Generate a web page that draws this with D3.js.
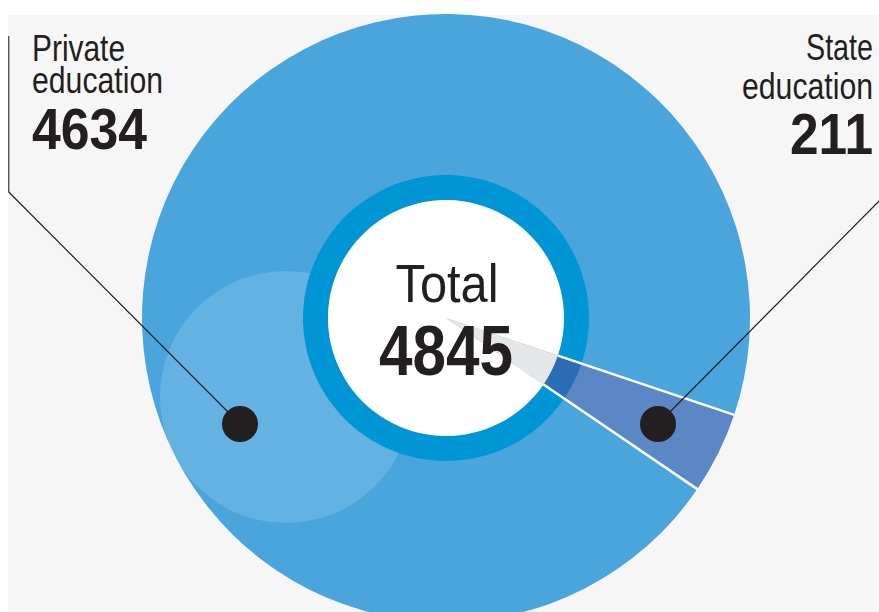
<!DOCTYPE html>
<html>
<head>
<meta charset="utf-8">
<script src="https://cdn.jsdelivr.net/npm/d3@7"></script>
<style>
  body { margin: 0; background: #fff; }
  text { font-family: "Liberation Sans", Arial, sans-serif; fill: #231f20; }
</style>
</head>
<body>
<svg id="chart" width="879" height="612"></svg>
<script>
// Data
var categories = ["Private education", "State education"];
var labelLines = [["Private", "education"], ["State", "education"]];
var values = [4634, 211];
var totalLabel = "Total";
var total = d3.sum(values);

var width = 879, height = 612;
var cx = 446, cy = 318;
var rOuter = 304, rRing = 143, rInner = 118;

var svg = d3.select("#chart");

// panel
svg.append("rect")
    .attr("x", 8).attr("y", 15)
    .attr("width", width - 8).attr("height", height - 15)
    .attr("fill", "#f6f6f6");

var g = svg.append("g").attr("transform", "translate(" + cx + "," + cy + ")");

// state slice sits lower right, private takes the rest
var start = 124.25 * Math.PI / 180;
var pie = d3.pie().sort(null).startAngle(start).endAngle(start + 2 * Math.PI);
var arcs = pie(values);

var outerArc = d3.arc().innerRadius(0).outerRadius(rOuter);
var ringArc = d3.arc().innerRadius(rInner).outerRadius(rRing);
var innerArc = d3.arc().innerRadius(0).outerRadius(rInner);

g.selectAll(".outer").data(arcs).enter().append("path")
    .attr("class", "outer")
    .attr("d", outerArc)
    .attr("fill", function (d, i) { return i == 0 ? "#49a5dc" : "#5b87c5"; });

// light disc inside the big circle
g.append("clipPath").attr("id", "bigclip")
    .append("circle").attr("r", rOuter);
g.append("circle")
    .attr("cx", 286 - cx).attr("cy", 397 - cy).attr("r", 126)
    .attr("fill", "#fff").attr("fill-opacity", 0.15)
    .attr("clip-path", "url(#bigclip)");

g.selectAll(".ring").data(arcs).enter().append("path")
    .attr("class", "ring")
    .attr("d", ringArc)
    .attr("fill", function (d, i) { return i == 0 ? "#0096d6" : "#2a6db5"; });

g.selectAll(".inner").data(arcs).enter().append("path")
    .attr("class", "inner")
    .attr("d", innerArc)
    .attr("fill", function (d, i) { return i == 0 ? "#ffffff" : "#e6e7e8"; });

// white separators of the state slice
var edges = [arcs[1].startAngle, arcs[1].endAngle];
g.selectAll(".sep").data(edges).enter().append("line")
    .attr("x1", function (a) { return rInner * Math.sin(a); })
    .attr("y1", function (a) { return -rInner * Math.cos(a); })
    .attr("x2", function (a) { return rOuter * Math.sin(a); })
    .attr("y2", function (a) { return -rOuter * Math.cos(a); })
    .attr("stroke", "#fff")
    .attr("stroke-width", 2.5);

// leader lines
svg.append("line")
    .attr("x1", 8.7).attr("y1", 36).attr("x2", 8.7).attr("y2", 192)
    .attr("stroke", "#555").attr("stroke-width", 1.4);
svg.append("line")
    .attr("x1", 8.7).attr("y1", 192).attr("x2", 240).attr("y2", 424)
    .attr("stroke", "#231f20").attr("stroke-width", 1.2);
svg.append("line")
    .attr("x1", 658).attr("y1", 424).attr("x2", 885).attr("y2", 195)
    .attr("stroke", "#231f20").attr("stroke-width", 1.2);

var dots = [[240, 424], [658, 424]];
svg.selectAll(".dot").data(dots).enter().append("circle")
    .attr("cx", function (d) { return d[0]; })
    .attr("cy", function (d) { return d[1]; })
    .attr("r", 18)
    .attr("fill", "#231f20");

// labels (condensed look via textLength)
function label(x, y, txt, size, weight, anchor, len) {
    return svg.append("text")
        .attr("x", x).attr("y", y)
        .attr("text-anchor", anchor)
        .attr("textLength", len)
        .attr("lengthAdjust", "spacingAndGlyphs")
        .style("font-size", size + "px")
        .style("font-weight", weight)
        .text(txt);
}

label(32, 61, labelLines[0][0], 36, "normal", "start", 93);
label(32, 93, labelLines[0][1], 36, "normal", "start", 131);
label(32, 149, values[0], 57, "bold", "start", 115);

label(873, 60, labelLines[1][0], 36, "normal", "end", 67);
label(873, 99, labelLines[1][1], 36, "normal", "end", 131);
label(873, 154, values[1], 58, "bold", "end", 83);

label(447, 302, totalLabel, 54, "normal", "middle", 103);
label(446, 375, total, 71, "bold", "middle", 134);
</script>
</body>
</html>
